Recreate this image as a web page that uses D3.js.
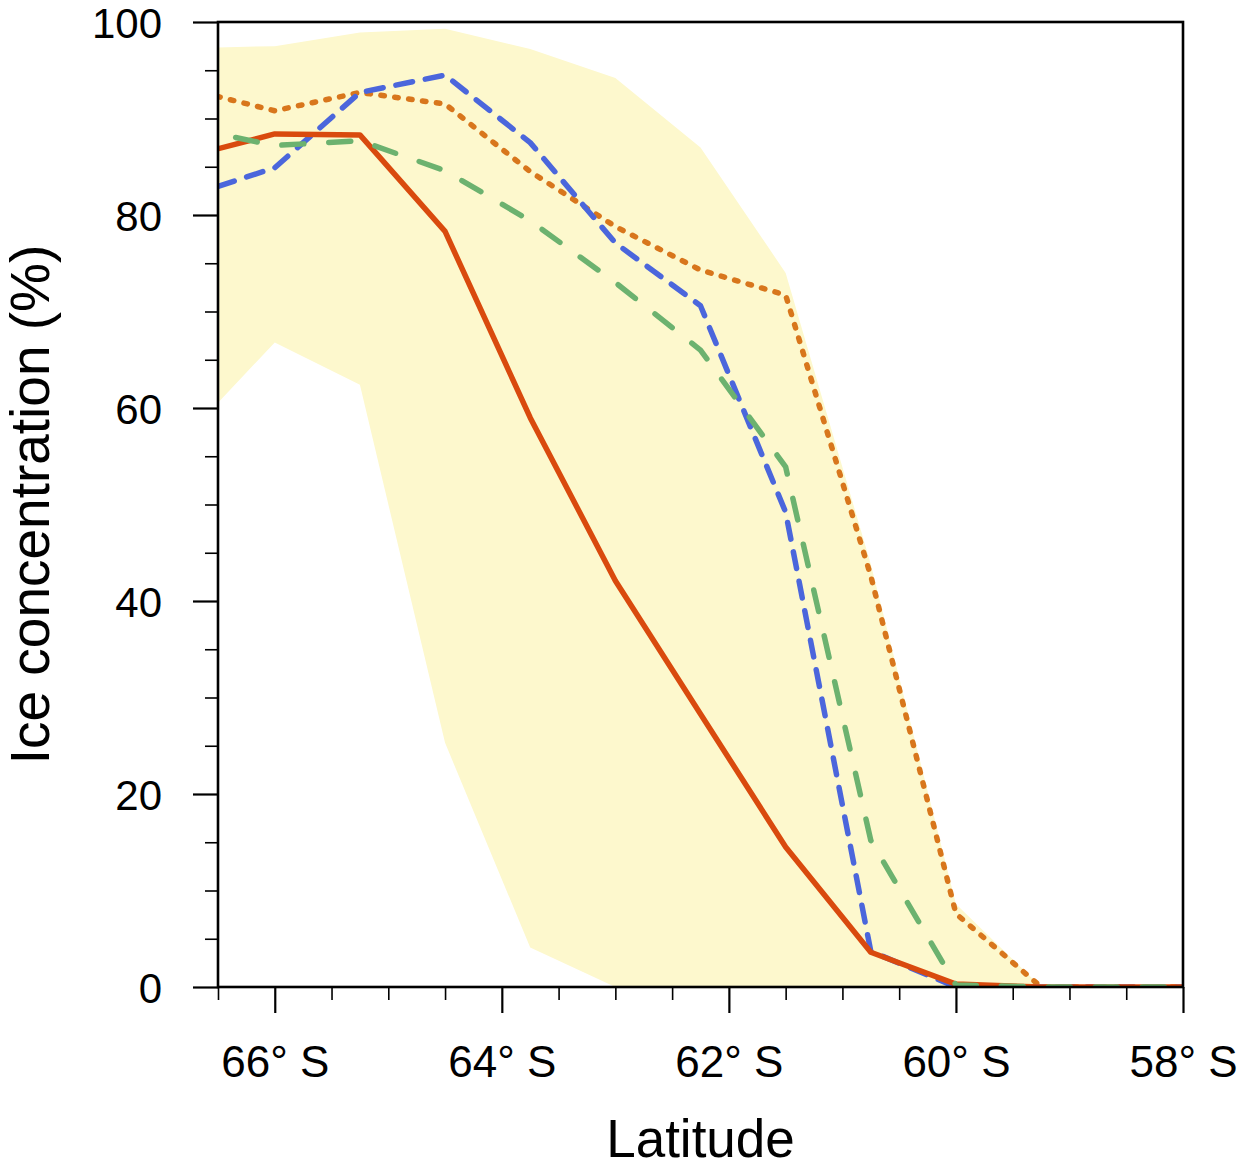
<!DOCTYPE html>
<html>
<head>
<meta charset="utf-8">
<script src="https://cdn.jsdelivr.net/npm/d3@7"></script>
<style>
  html, body { margin: 0; padding: 0; background: #fff; }
  text { font-family: "Liberation Sans", Arial, Helvetica, sans-serif; fill: #000; }
</style>
</head>
<body>
<svg id="chart" width="1245" height="1168"></svg>
<script>
// ---- data ----
const latitudes = [-66.75, -66, -65.25, -64.5, -63.75, -63, -62.25, -61.5, -60.75, -60, -59.25, -58.5, -57.75];
const seriesRed    = [86.1, 88.4, 88.3, 78.3, 59.0, 42.1, 28.3, 14.5, 3.6, 0.3, 0, 0, 0];
const seriesBlue   = [82.0, 84.9, 92.7, 94.5, 87.5, 77.1, 70.6, 49.2, 3.7, 0, 0, 0, 0];
const seriesGreen  = [89.0, 87.2, 87.7, 84.6, 79.4, 73.0, 66.0, 53.9, 15.2, 0.2, 0, 0, 0];
const seriesOrange = [93.0, 90.8, 92.7, 91.5, 84.5, 78.8, 74.3, 71.7, 42.6, 7.6, 0, 0, 0];
const bandUpper    = [97.3, 97.5, 98.9, 99.3, 97.2, 94.2, 87.0, 74.0, 43.8, 8.6, 0, 0, 0];
const bandLower    = [57.4, 66.8, 62.4, 25.3, 4.1, 0, 0, 0, 0, 0, 0, 0, 0];
const xTickValues  = [-66, -64, -62, -60, -58];
const yTickValues  = [0, 20, 40, 60, 80, 100];
const xLabel = "Latitude";
const yLabel = "Ice concentration (%)";

// ---- layout ----
const svg = d3.select("#chart");
const L = 218, R = 1183, T = 22, B = 987;
const x = d3.scaleLinear().domain([-66.5, -58]).range([L, R]);
const y = d3.scaleLinear().domain([0, 100]).range([B, T]);

svg.append("defs").append("clipPath").attr("id", "clip")
  .append("rect").attr("x", L).attr("y", T).attr("width", R - L).attr("height", B - T);

const plot = svg.append("g").attr("clip-path", "url(#clip)");

// band
const bandData = latitudes.map((lat, i) => ({lat, lo: bandLower[i], hi: bandUpper[i]}));
plot.append("path")
  .datum(bandData)
  .attr("fill", "#fdf8cd")
  .attr("d", d3.area().x(d => x(d.lat)).y0(d => y(d.lo)).y1(d => y(d.hi)));

const line = d3.line().x(d => x(d.lat)).y(d => y(d.v));
function drawSeries(vals, color, dash, cap) {
  plot.append("path")
    .datum(latitudes.map((lat, i) => ({lat, v: vals[i]})))
    .attr("fill", "none")
    .attr("stroke", color)
    .attr("stroke-width", 5.5)
    .attr("stroke-linejoin", "round")
    .attr("stroke-linecap", cap)
    .attr("stroke-dasharray", dash)
    .attr("d", line);
}
drawSeries(seriesOrange, "#d8761c", "3.5,10.5", "round");
drawSeries(seriesBlue, "#4b66dc", "17,13", "round");
drawSeries(seriesRed, "#d94a0e", null, "butt");
drawSeries(seriesGreen, "#6cb26f", "22,25", "round");

// axes
const xMinor = d3.range(-66.5, -57.99, 0.5).filter(v => !xTickValues.some(t => Math.abs(t - v) < 1e-6));
const yMinor = d3.range(0, 100.01, 5).filter(v => v % 20 !== 0);

const xAxis = svg.append("g").attr("transform", `translate(0,${B})`)
  .call(d3.axisBottom(x).tickValues(xTickValues).tickSize(26).tickPadding(32)
    .tickFormat(d => `${Math.abs(d)}° S`));
xAxis.select(".domain").remove();
xAxis.selectAll(".tick line").attr("stroke", "#000").attr("stroke-width", 2.2);
xAxis.selectAll(".tick text").attr("font-size", 44).attr("dy", "0.72em");

const xAxisMinor = svg.append("g").attr("transform", `translate(0,${B})`)
  .call(d3.axisBottom(x).tickValues(xMinor).tickSize(13).tickFormat(""));
xAxisMinor.select(".domain").remove();
xAxisMinor.selectAll(".tick line").attr("stroke", "#000").attr("stroke-width", 1.6);

const yAxis = svg.append("g").attr("transform", `translate(${L},0)`)
  .call(d3.axisLeft(y).tickValues(yTickValues).tickSize(25).tickPadding(31));
yAxis.select(".domain").remove();
yAxis.selectAll(".tick line").attr("stroke", "#000").attr("stroke-width", 2.2);
yAxis.selectAll(".tick text").attr("font-size", 42).attr("dy", "0.36em");

const yAxisMinor = svg.append("g").attr("transform", `translate(${L},0)`)
  .call(d3.axisLeft(y).tickValues(yMinor).tickSize(13).tickFormat(""));
yAxisMinor.select(".domain").remove();
yAxisMinor.selectAll(".tick line").attr("stroke", "#000").attr("stroke-width", 1.6);

// frame
svg.append("rect").attr("x", L).attr("y", T).attr("width", R - L).attr("height", B - T)
  .attr("fill", "none").attr("stroke", "#000").attr("stroke-width", 2.6);

// labels
svg.append("text").attr("x", (L + R) / 2).attr("y", 1157)
  .attr("text-anchor", "middle").attr("font-size", 53).text(xLabel);
svg.append("text")
  .attr("transform", `translate(49,${(T + B) / 2}) rotate(-90)`)
  .attr("text-anchor", "middle").attr("font-size", 55).text(yLabel);
</script>
</body>
</html>
